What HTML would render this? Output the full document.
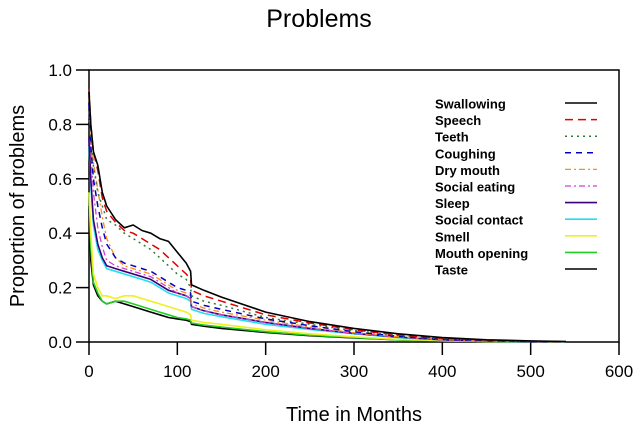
<!DOCTYPE html>
<html><head><meta charset="utf-8"><style>
body{margin:0;background:#fff;width:639px;height:433px;overflow:hidden;font-family:"Liberation Sans",sans-serif}
</style></head><body>
<svg id="c" width="639" height="433" xmlns="http://www.w3.org/2000/svg"></svg>
<script>
const months=[0,2,5,10,15,20,30,40,50,60,70,80,90,100,110,115,116,130,150,200,250,300,350,400,450,500,540];
const seriesNames=["Swallowing","Speech","Teeth","Coughing","Dry mouth","Social eating","Sleep","Social contact","Smell","Mouth opening","Taste"];
const swallowing=[0.92,0.80,0.70,0.65,0.55,0.50,0.45,0.42,0.43,0.41,0.40,0.38,0.37,0.33,0.29,0.26,0.21,0.19,0.165,0.11,0.075,0.05,0.03,0.016,0.008,0.004,0.002];
const speech=[0.93,0.80,0.70,0.63,0.53,0.48,0.44,0.41,0.40,0.38,0.36,0.34,0.31,0.28,0.25,0.23,0.19,0.17,0.15,0.10,0.07,0.045,0.026,0.014,0.007,0.003,0.001];
const teeth=[0.85,0.75,0.65,0.55,0.50,0.45,0.43,0.40,0.38,0.36,0.34,0.31,0.28,0.25,0.23,0.20,0.17,0.15,0.135,0.09,0.065,0.042,0.024,0.012,0.006,0.003,0.001];
const coughing=[0.88,0.72,0.60,0.50,0.42,0.36,0.31,0.29,0.28,0.27,0.26,0.24,0.22,0.20,0.19,0.18,0.15,0.135,0.12,0.085,0.06,0.038,0.021,0.01,0.005,0.002,0.001];
const dryMouth=[0.90,0.76,0.66,0.56,0.46,0.38,0.31,0.28,0.27,0.26,0.25,0.23,0.21,0.19,0.18,0.17,0.14,0.125,0.11,0.08,0.055,0.034,0.019,0.009,0.004,0.002,0.001];
const socialEating=[0.85,0.70,0.55,0.42,0.35,0.30,0.28,0.27,0.26,0.25,0.24,0.22,0.20,0.18,0.17,0.16,0.13,0.115,0.10,0.072,0.05,0.032,0.018,0.008,0.004,0.002,0.001];
const sleep=[0.75,0.60,0.45,0.36,0.31,0.28,0.27,0.26,0.25,0.24,0.23,0.21,0.19,0.18,0.17,0.16,0.13,0.115,0.10,0.072,0.05,0.032,0.018,0.008,0.004,0.002,0.001];
const socialContact=[0.72,0.58,0.43,0.34,0.30,0.27,0.26,0.25,0.24,0.23,0.22,0.20,0.18,0.17,0.16,0.15,0.12,0.105,0.093,0.065,0.046,0.03,0.016,0.008,0.003,0.001,0.0];
const smell=[0.55,0.40,0.25,0.20,0.17,0.17,0.16,0.17,0.17,0.16,0.15,0.14,0.13,0.12,0.11,0.10,0.08,0.072,0.065,0.045,0.03,0.019,0.01,0.005,0.002,0.001,0.0];
const mouthOpening=[0.55,0.35,0.22,0.18,0.15,0.14,0.15,0.15,0.14,0.13,0.12,0.11,0.10,0.09,0.085,0.08,0.07,0.062,0.055,0.038,0.025,0.016,0.008,0.004,0.002,0.001,0.0];
const taste=[0.50,0.30,0.21,0.17,0.15,0.14,0.15,0.14,0.13,0.12,0.11,0.10,0.09,0.085,0.08,0.075,0.065,0.058,0.05,0.035,0.023,0.015,0.008,0.004,0.002,0.001,0.0];
const xTicks=[0,100,200,300,400,500,600];
const yTicks=[0.0,0.2,0.4,0.6,0.8,1.0];

const allSeries=[swallowing,speech,teeth,coughing,dryMouth,socialEating,sleep,socialContact,smell,mouthOpening,taste];
const colors=["#000","#e00000","#2e7d32","#0000c0","#ff8c1a","#d040d0","#3a007a","#20e0f0","#f0f020","#20d020","#000"];
const dashes=["","8,5","2,4","6,5","6,3,2,3","6,3,2,3","","","","",""];
const widths=[1.6,1.5,1.5,1.5,1.3,1.3,1.6,1.6,1.6,1.6,1.6];

const L=89,R=619,T=70,B=342;
const xs=v=>L+(v/600)*(R-L);
const ys=v=>B-v*(B-T);
const svg=document.getElementById('c');
const NS="http://www.w3.org/2000/svg";
function mk(tag,attrs,txt){const e=document.createElementNS(NS,tag);for(const k in attrs)e.setAttribute(k,attrs[k]);if(txt!=null)e.textContent=txt;svg.appendChild(e);return e;}

let t=mk('text',{x:319,y:27,'font-size':25,'text-anchor':'middle',fill:'#000'},'Problems');



let fr=mk('rect',{x:L,y:T,width:R-L,height:B-T,fill:'none',stroke:'#000','stroke-width':1.5});



xTicks.forEach(v=>{
  let l=mk('line',{x1:xs(v),x2:xs(v),y1:B,y2:B+13,stroke:'#000','stroke-width':1.5});
  
  
  let tx=mk('text',{x:xs(v),y:B+35,'font-size':17,'text-anchor':'middle'},String(v));
  
  
});
yTicks.forEach(v=>{
  let l=mk('line',{x1:L-13,x2:L,y1:ys(v),y2:ys(v),stroke:'#000','stroke-width':1.5});
  
  
  let tx=mk('text',{x:L-17,y:ys(v)+6,'font-size':17,'text-anchor':'end'},v.toFixed(1));
  
  
});
let xl=mk('text',{x:354,y:421,'font-size':20,'text-anchor':'middle'},'Time in Months');


let yl=mk('text',{x:0,y:0,'font-size':20,'text-anchor':'middle',transform:'translate(24,206) rotate(-90)'},'Proportion of problems');



for(let s=allSeries.length-1;s>=0;s--){
  const d=allSeries[s];
  const p=months.map((m,i)=>(i?'L':'M')+xs(m).toFixed(1)+','+ys(d[i]).toFixed(1)).join('');
  let e=mk('path',{d:p,fill:'none',stroke:colors[s],'stroke-width':widths[s],'stroke-dasharray':dashes[s],'stroke-linejoin':'round'});
  
  
}

seriesNames.forEach((n,i)=>{
  const y=104+i*16.6;
  let tx=mk('text',{x:435,y:y+4.5,'font-size':13,'font-weight':'bold'},n);
  
  
  let l=mk('line',{x1:565,x2:597,y1:y-1,y2:y-1,stroke:colors[i],'stroke-width':widths[i],'stroke-dasharray':dashes[i]});
  
  
});
</script>
</body></html>
